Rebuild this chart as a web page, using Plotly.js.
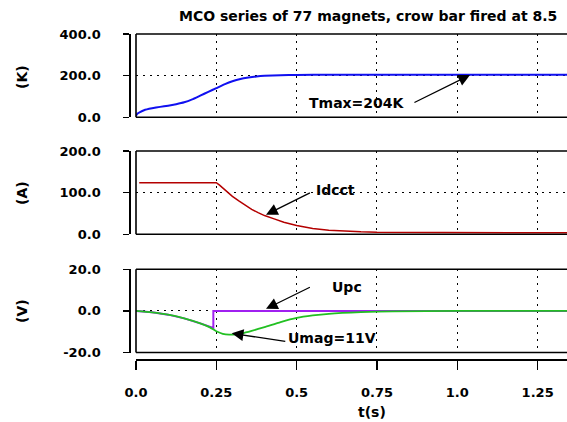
<!DOCTYPE html>
<html>
<head>
<meta charset="utf-8">
<script src="https://cdn.plot.ly/plotly-3.0.1.min.js"></script>
<style>html,body{margin:0;padding:0;background:#fff;}#chart{width:567px;height:422px;}</style>
</head>
<body>
<div id="chart"></div>
<script>
// ---- data ----
const tempT = [0, 0.005, 0.0125, 0.025, 0.05, 0.075, 0.1, 0.125, 0.15, 0.175, 0.2, 0.225, 0.25, 0.275, 0.3, 0.325, 0.35, 0.375, 0.4, 0.45, 0.5, 0.6, 1.35];
const tempK = [8, 18, 25, 34, 43, 50, 56, 63, 72, 86, 104, 122, 140, 158, 173, 184, 191, 196, 199, 202, 203.5, 204, 204];

const idcctT = [0.01, 0.25, 0.26, 0.28, 0.30, 0.32, 0.34, 0.36, 0.38, 0.40, 0.43, 0.46, 0.50, 0.55, 0.60, 0.65, 0.70, 0.75, 0.85, 1.0, 1.2, 1.35];
const idcctA = [124, 124, 118, 104, 91, 80, 69, 60, 52, 45, 37, 29, 21, 14, 10, 7.5, 6, 5, 4.5, 4, 3.5, 3.5];

const upcT = [0, 0.05, 0.1, 0.15, 0.2, 0.23, 0.2407, 0.2407, 0.5, 1.0, 1.35];
const upcV = [0, -0.7, -1.8, -3.6, -6.0, -7.9, -8.2, 0, 0, 0, 0];

const umagT = [0, 0.05, 0.1, 0.15, 0.2, 0.23, 0.25, 0.27, 0.29, 0.31, 0.33, 0.36, 0.40, 0.45, 0.50, 0.55, 0.60, 0.70, 0.80, 1.0, 1.35];
const umagV = [0, -0.7, -1.8, -3.6, -6.0, -7.9, -9.8, -11.0, -11.4, -11.3, -10.8, -9.6, -7.8, -5.4, -3.4, -2.2, -1.4, -0.6, -0.2, 0, 0];

const xTickVals = [0, 0.25, 0.5, 0.75, 1.0, 1.25];
const xTickText = ['0.0', '0.25', '0.5', '0.75', '1.0', '1.25'];
const kTickVals = [0, 200, 400];
const kTickText = ['0.0', '200.0', '400.0'];
const aTickVals = [0, 100, 200];
const aTickText = ['0.0', '100.0', '200.0'];
const vTickVals = [-20, 0, 20];
const vTickText = ['-20.0', '0.0', '20.0'];

const titleText = 'MCO series of 77 magnets, crow bar fired at 8.5';
const yTitles = ['(K)', '(A)', '(V)'];
const xTitle = 't(s)';

// ---- layout helpers ----
const W = 567, H = 422;
const px = X => X / W;
const py = Y => 1 - Y / H;
const FONT = {family: 'DejaVu Sans', size: 13, color: '#000', weight: 'bold'};
const AFONT = {family: 'DejaVu Sans', size: 14, color: '#000', weight: 'bold'};

function yAxis(dom, range, vals, text) {
  return {
    domain: dom, range: range, anchor: 'free', position: px(129.3),
    showline: true, linecolor: '#000', linewidth: 1.5,
    ticks: 'outside', ticklen: 6, tickwidth: 1.5, tickcolor: '#000',
    tickvals: vals, ticktext: text, tickfont: FONT, ticklabelstandoff: 20,
    showgrid: true, gridcolor: '#000', gridwidth: 1, griddash: '2px,5px',
    zeroline: false, fixedrange: true
  };
}

const traces = [
  {x: tempT, y: tempK, xaxis: 'x', yaxis: 'y', mode: 'lines', line: {color: '#1010f0', width: 2, shape: 'spline', smoothing: 0.4}, hoverinfo: 'skip'},
  {x: idcctT, y: idcctA, xaxis: 'x', yaxis: 'y2', mode: 'lines', line: {color: '#b40000', width: 1.5}, hoverinfo: 'skip'},
  {x: upcT, y: upcV, xaxis: 'x', yaxis: 'y3', mode: 'lines', line: {color: '#a020f0', width: 2}, hoverinfo: 'skip'},
  {x: umagT, y: umagV, xaxis: 'x', yaxis: 'y3', mode: 'lines', line: {color: '#22c022', width: 1.8, shape: 'spline', smoothing: 0.6}, hoverinfo: 'skip'}
];

const shapes = [];
['y', 'y2', 'y3'].forEach(ya => {
  const yr = ya + ' domain';
  const ln = {color: '#000', width: 1.6};
  shapes.push({type: 'line', xref: 'x domain', yref: yr, x0: 0, x1: 1, y0: 1, y1: 1, line: ln});
  shapes.push({type: 'line', xref: 'x domain', yref: yr, x0: 0, x1: 1, y0: 0, y1: 0, line: ln});
  shapes.push({type: 'line', xref: 'x domain', yref: yr, x0: 0, x1: 0, y0: 0, y1: 1, line: ln});
});

function arrow(xr, yr, tipX, tipY, tailX, tailY) {
  return {xref: xr, yref: yr, axref: xr, ayref: yr, x: tipX, y: tipY, ax: tailX, ay: tailY,
    text: ' ', font: {size: 1}, borderpad: 0, showarrow: true, arrowhead: 2, arrowsize: 1.8,
    arrowwidth: 1.3, arrowcolor: '#000', standoff: 0, startstandoff: 0};
}
function label(xr, yr, x, y, text) {
  return {xref: xr, yref: yr, x: x, y: y, text: text, showarrow: false, font: AFONT,
    xanchor: 'center', yanchor: 'middle'};
}

const annotations = [
  {xref: 'paper', yref: 'paper', x: px(177), y: py(15.7), text: titleText, showarrow: false,
   font: {family: 'DejaVu Sans', size: 14, color: '#000', weight: 'bold'}, xanchor: 'left', yanchor: 'middle'},
  {xref: 'paper', yref: 'paper', x: px(22), y: py(77), text: yTitles[0], textangle: -90, showarrow: false, font: AFONT, xanchor: 'center', yanchor: 'middle'},
  {xref: 'paper', yref: 'paper', x: px(22), y: py(193), text: yTitles[1], textangle: -90, showarrow: false, font: AFONT, xanchor: 'center', yanchor: 'middle'},
  {xref: 'paper', yref: 'paper', x: px(22), y: py(311), text: yTitles[2], textangle: -90, showarrow: false, font: AFONT, xanchor: 'center', yanchor: 'middle'},
  {xref: 'paper', yref: 'paper', x: px(371.6), y: py(411.5), text: xTitle, showarrow: false, font: AFONT, xanchor: 'center', yanchor: 'middle'},
  arrow('x', 'y', 1.0395, 203, 0.865, 70),
  label('x', 'y', 0.687, 67, 'Tmax=204K'),
  arrow('x', 'y2', 0.4046, 47, 0.5428, 100),
  label('x', 'y2', 0.622, 107.5, 'Idcct'),
  arrow('x', 'y3', 0.4046, 1.0, 0.5428, 11.5),
  label('x', 'y3', 0.657, 11.5, 'Upc'),
  arrow('x', 'y3', 0.2979, -10.8, 0.4662, -14.7),
  label('x', 'y3', 0.6096, -13.1, 'Umag=11V')
];

const layout = {
  width: W, height: H,
  margin: {l: 0, r: 0, t: 0, b: 0, pad: 0},
  paper_bgcolor: '#fff', plot_bgcolor: '#fff',
  showlegend: false,
  xaxis: {
    domain: [px(136), 1], range: [0, (W - 136) / 321.3], anchor: 'free', position: py(359),
    showline: true, linecolor: '#000', linewidth: 1.5,
    ticks: 'outside', ticklen: 9, tickwidth: 1.5, tickcolor: '#000',
    tickvals: xTickVals, ticktext: xTickText, tickfont: FONT, ticklabelstandoff: 12,
    showgrid: true, gridcolor: '#000', gridwidth: 1, griddash: '2px,5px',
    zeroline: false, fixedrange: true
  },
  yaxis: yAxis([py(117.3), py(34)], [0, 400], kTickVals, kTickText),
  yaxis2: yAxis([py(234.3), py(151)], [0, 200], aTickVals, aTickText),
  yaxis3: yAxis([py(352.5), py(269.3)], [-20, 20], vTickVals, vTickText),
  shapes: shapes,
  annotations: annotations
};

Plotly.newPlot('chart', traces, layout, {staticPlot: true, displayModeBar: false});
</script>
</body>
</html>
